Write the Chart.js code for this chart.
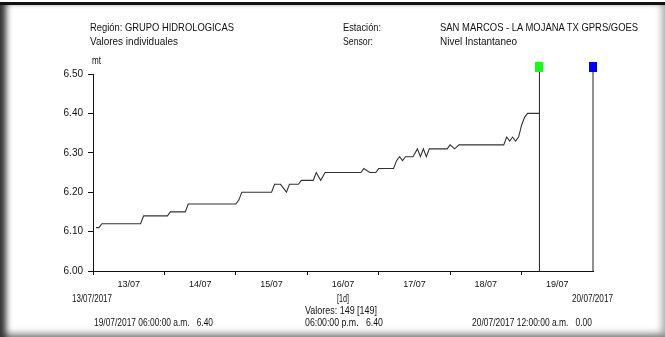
<!DOCTYPE html>
<html>
<head>
<meta charset="utf-8">
<script src="https://cdn.jsdelivr.net/npm/chart.js@4.4.0/dist/chart.umd.min.js"></script>
<style>
  html, body { margin: 0; padding: 0; background: #fff; }
  body { width: 665px; height: 337px; position: relative; overflow: hidden;
         font-family: 'Liberation Sans', Arial, sans-serif; font-size: 11px; color: #111; }
  #frame { position: absolute; left: 0; top: 2px; width: 665px; height: 335px; box-sizing: border-box;
           border-top: 3px solid #111;
           box-shadow: inset 9px 0 6px -3px #333, inset 0 -7px 6px -3px #999, inset -7px 0 6px -3px #bbb; }
  canvas { position: absolute; left: 0; top: 0; }
  .t { position: absolute; white-space: pre; line-height: 12px; transform-origin: 0 0; }
</style>
</head>
<body>
<div id="frame"></div>
<canvas id="grafico" width="665" height="337"></canvas>

<div class="t" data-w="144" style="left:90px; top:21px;">Región: GRUPO HIDROLOGICAS</div>
<div class="t" data-w="88" style="left:90px; top:35px;">Valores individuales</div>
<div class="t" data-w="38" style="left:343px; top:21px;">Estación:</div>
<div class="t" data-w="30" style="left:343px; top:35px;">Sensor:</div>
<div class="t" data-w="198" style="left:440px; top:21px;">SAN MARCOS - LA MOJANA TX GPRS/GOES</div>
<div class="t" data-w="77" style="left:440px; top:35px;">Nivel Instantaneo</div>
<div class="t" data-w="9" style="left:92px; top:55px; font-size:10px;">mt</div>

<div class="t" data-w="40" style="left:72px; top:292px;">13/07/2017</div>
<div class="t" data-w="41" style="left:572px; top:292px;">20/07/2017</div>
<div class="t" data-w="12" style="left:337px; top:292px;">[1d]</div>
<div class="t" data-w="72" style="left:305px; top:304px;">Valores: 149 [149]</div>
<div class="t" data-w="119" style="left:94px; top:316px;">19/07/2017 06:00:00 a.m.   6.40</div>
<div class="t" data-w="78" style="left:305px; top:316px;">06:00:00 p.m.   6.40</div>
<div class="t" data-w="120" style="left:472px; top:316px;">20/07/2017 12:00:00 a.m.   0.00</div>

<script>
// Horas desde 13/07/2017 00:00 (vértices da curva)
const horas = [1, 2, 3, 16, 17, 25, 26, 31, 32, 48, 49, 50, 60, 61, 63, 65, 66, 69, 70, 74, 75, 76.5, 78,
               90, 91, 93, 95, 96, 101, 102, 103, 104, 105, 107.5, 109, 110, 111, 112, 113, 119,
               120, 121.5, 123, 138, 139, 140, 141, 142, 143, 144, 145, 146, 150];
// Nível (mt)
const niveis = [6.11, 6.11, 6.12, 6.12, 6.14, 6.14, 6.15, 6.15, 6.17, 6.17, 6.18, 6.20, 6.20, 6.22, 6.22, 6.20, 6.22, 6.22, 6.23, 6.23, 6.25, 6.23, 6.25,
                6.25, 6.26, 6.25, 6.25, 6.26, 6.26, 6.28, 6.29, 6.28, 6.29, 6.29, 6.31, 6.29, 6.31, 6.29, 6.31, 6.31,
                6.32, 6.31, 6.32, 6.32, 6.34, 6.33, 6.34, 6.33, 6.34, 6.37, 6.39, 6.40, 6.40];

// Marcadores (início e fim do período)
const marcadorHoras = [150, 168];
const marcadorTopo = 6.505;
const marcadorCores = ['#11ff11', '#0000ff'];

const diasLabels = ['13/07', '14/07', '15/07', '16/07', '17/07', '18/07', '19/07'];
const yMin = 6.0, yMax = 6.5, yPasso = 0.1;

// Ajusta largura dos textos (fonte estreita do original)
document.querySelectorAll('.t[data-w]').forEach(el => {
    const w = el.getBoundingClientRect().width;
    el.style.transform = `scaleX(${(+el.dataset.w / w).toFixed(3)})`;
});

// Quadradinho do marcador: imagem com o quadrado na metade de cima (fica acima da linha)
function iconeMarcador(cor) {
    const c = document.createElement('canvas');
    c.width = 8; c.height = 20;
    const g = c.getContext('2d');
    g.fillStyle = cor;
    g.fillRect(0, 0, 8, 10);
    return c;
}

Chart.defaults.font.family = "'Liberation Sans', Arial, sans-serif";
Chart.defaults.font.size = 10;
Chart.defaults.color = '#111';

const serie = horas.map((h, i) => ({ x: h, y: niveis[i] }));

const marcadores = marcadorHoras.map((h, i) => ({
    data: [{ x: h, y: yMin }, { x: h, y: marcadorTopo }],
    borderColor: '#222',
    borderWidth: 1,
    pointRadius: [0, 5],
    pointStyle: [false, iconeMarcador(marcadorCores[i])],
    pointBorderWidth: 0,
    clip: false
}));

const ctx = document.getElementById('grafico').getContext('2d');
new Chart(ctx, {
    type: 'line',
    data: {
        datasets: [{
            data: serie,
            borderColor: '#333',
            borderWidth: 1.1,
            pointRadius: 0,
            tension: 0
        }, ...marcadores]
    },
    options: {
        responsive: false,
        animation: false,
        events: [],
        layout: { autoPadding: false, padding: { left: 0, right: 72, top: 74, bottom: 40 } },
        plugins: { legend: { display: false }, tooltip: { enabled: false } },
        scales: {
            x: {
                type: 'linear', min: 0, max: 168,
                afterFit: s => { s.height = 26; },
                afterBuildTicks: s => { s.ticks = []; for (let v = 0; v <= 168; v += 12) s.ticks.push({ value: v }); },
                ticks: {
                    autoSkip: false, maxRotation: 0, padding: 4, font: { size: 9 },
                    callback: v => (v % 24 === 12 ? diasLabels[(v - 12) / 24] : '')
                },
                grid: {
                    drawOnChartArea: false, tickLength: 4, lineWidth: 1,
                    tickColor: c => (c.tick && c.tick.value % 24 === 0 && c.tick.value < 168 ? '#111' : 'rgba(0,0,0,0)')
                },
                border: { color: '#111', width: 1 }
            },
            y: {
                min: yMin, max: yMax,
                afterFit: s => { s.width = 93; },
                ticks: { stepSize: yPasso, padding: 5, callback: v => v.toFixed(2) },
                grid: { drawOnChartArea: false, tickLength: 5, tickColor: '#111' },
                border: { color: '#111', width: 1 }
            }
        }
    }
});
</script>
</body>
</html>
